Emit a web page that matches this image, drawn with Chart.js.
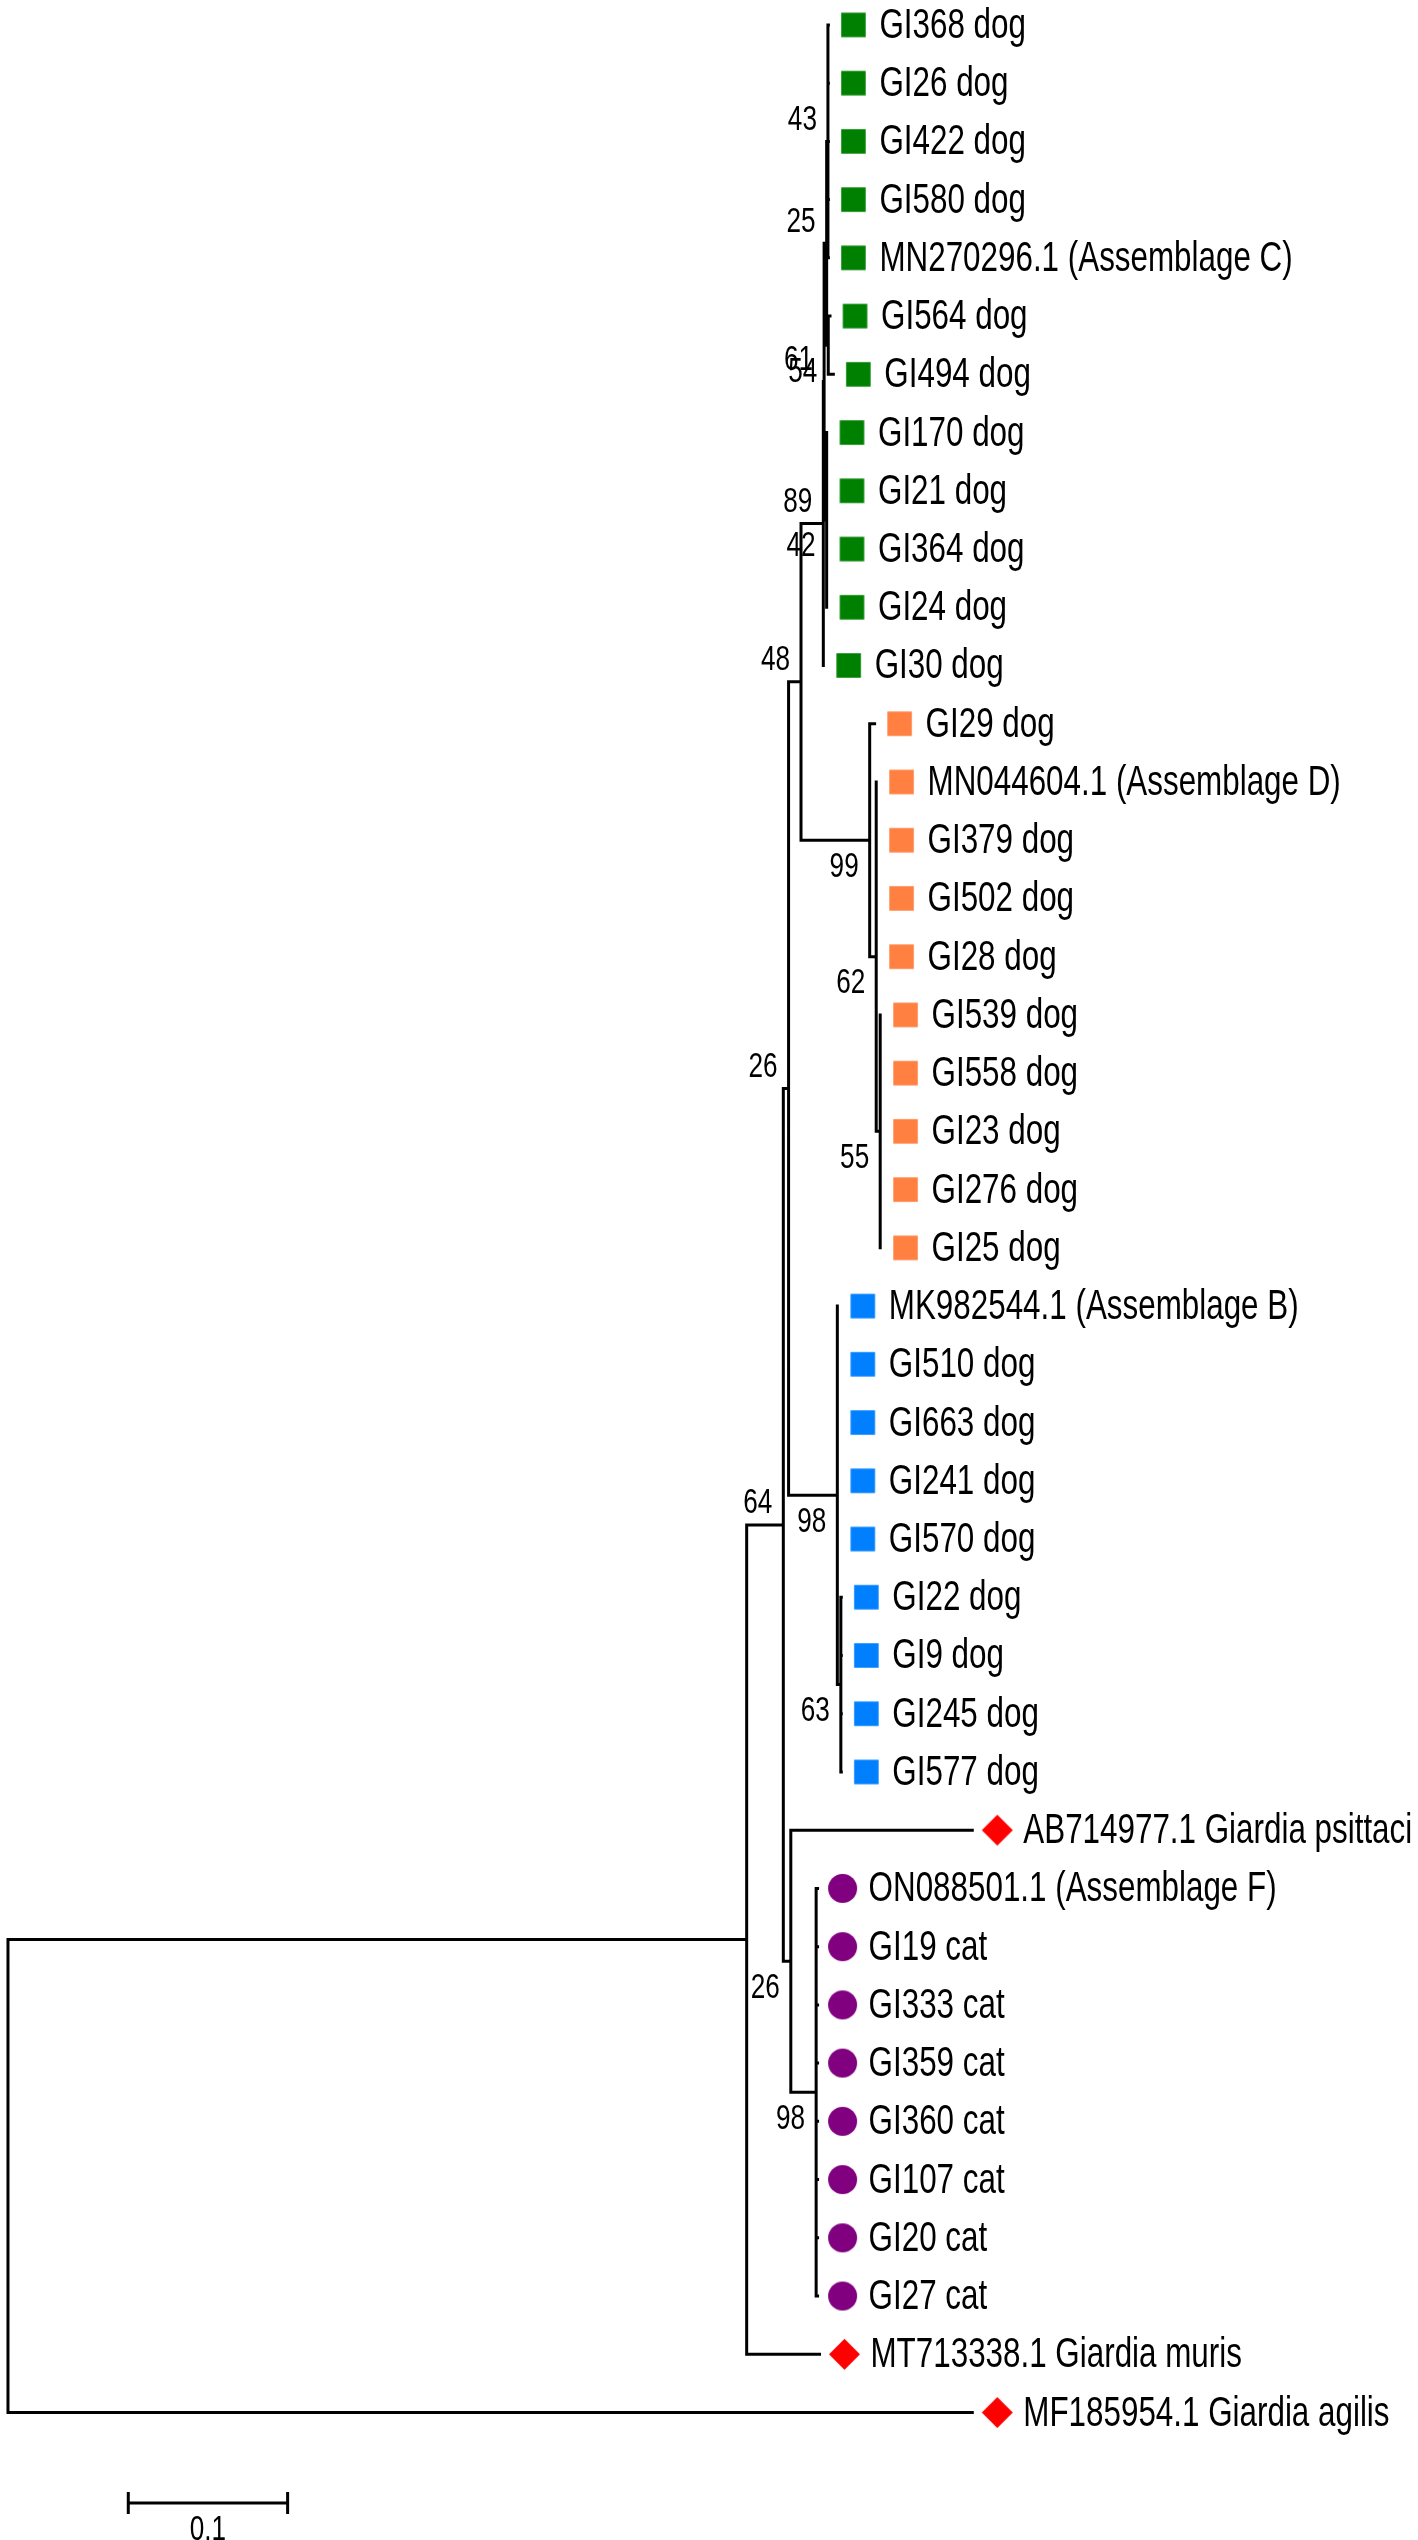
<!DOCTYPE html>
<html>
<head>
<meta charset="utf-8">
<title>Giardia tree</title>
<script src="https://cdn.jsdelivr.net/npm/chart.js@4.4.1/dist/chart.umd.min.js"></script>
<style>
  html, body { margin: 0; padding: 0; background: #fff; }
  #wrap { width: 1418px; height: 2540px; }
</style>
</head>
<body>
<div id="wrap"><canvas id="tree" width="1418" height="2540"></canvas></div>
<script>
// tips, top to bottom
const taxa = [
  'GI368 dog', 'GI26 dog', 'GI422 dog', 'GI580 dog', 'MN270296.1 (Assemblage C)',
  'GI564 dog', 'GI494 dog', 'GI170 dog', 'GI21 dog', 'GI364 dog', 'GI24 dog', 'GI30 dog',
  'GI29 dog', 'MN044604.1 (Assemblage D)', 'GI379 dog', 'GI502 dog', 'GI28 dog',
  'GI539 dog', 'GI558 dog', 'GI23 dog', 'GI276 dog', 'GI25 dog',
  'MK982544.1 (Assemblage B)', 'GI510 dog', 'GI663 dog', 'GI241 dog', 'GI570 dog',
  'GI22 dog', 'GI9 dog', 'GI245 dog', 'GI577 dog',
  'AB714977.1 Giardia psittaci',
  'ON088501.1 (Assemblage F)', 'GI19 cat', 'GI333 cat', 'GI359 cat', 'GI360 cat',
  'GI107 cat', 'GI20 cat', 'GI27 cat',
  'MT713338.1 Giardia muris', 'MF185954.1 Giardia agilis'
];
const taxonGroup = [
  'C','C','C','C','C','C','C','C','C','C','C','C',
  'D','D','D','D','D','D','D','D','D','D',
  'B','B','B','B','B','B','B','B','B',
  'other',
  'F','F','F','F','F','F','F','F',
  'other','other'
];
// parent node of each tip, and distance of each tip from the root
const tipParent = [
  8, 8, 8, 8, 8, 9, 9, 10, 10, 10, 10, 5,
  11, 12, 12, 12, 12, 13, 13, 13, 13, 13,
  14, 14, 14, 14, 14, 15, 15, 15, 15,
  16,
  17, 17, 17, 17, 17, 17, 17, 17,
  1, 0
];
const tipDepth = [
  0.5149, 0.5149, 0.5149, 0.5149, 0.5149, 0.5159, 0.5180,
  0.5140, 0.5140, 0.5140, 0.5140, 0.5119,
  0.5439, 0.5451, 0.5451, 0.5451, 0.5451,
  0.5476, 0.5476, 0.5476, 0.5476, 0.5476,
  0.5208, 0.5208, 0.5208, 0.5208, 0.5208,
  0.5230, 0.5230, 0.5230, 0.5230,
  0.6052,
  0.5081, 0.5081, 0.5081, 0.5081, 0.5081, 0.5081, 0.5081, 0.5081,
  0.5093, 0.6052
];
// internal nodes: parent, distance from root, bootstrap
const nodeParent  = [-1, 0, 1, 2, 3, 4, 5, 6, 7, 7, 6, 4, 11, 12, 3, 14, 2, 16];
const nodeDepth   = [0, 0.4636, 0.4866, 0.4899, 0.4977, 0.5117, 0.5122, 0.5138, 0.5146,
                     0.5148, 0.5138, 0.5408, 0.5449, 0.5474, 0.5205, 0.5227, 0.4913, 0.5072];
const nodeSupport = [null, null, 64, 26, 48, 89, 61, 25, 43, 54, 42, 99, 62, 55, 98, 63, 26, 98];

const scaleBarStart = 0.0755;
const scaleBarLength = 0.1;
const scaleBarLabel = '0.1';

const groupStyle = {
  C: { shape: 'square', color: '#008000' },
  D: { shape: 'square', color: '#FF8040' },
  B: { shape: 'square', color: '#0080FF' },
  F: { shape: 'circle', color: '#800080' },
  other: { shape: 'diamond', color: '#FF0000' }
};

// ---- layout: tip y = row, node y = middle of first and last child ----
const children = nodeParent.map(() => []);
nodeParent.forEach((p, i) => { if (p >= 0) children[p].push({ kind: 'node', id: i }); });
tipParent.forEach((p, i) => children[p].push({ kind: 'tip', id: i }));

const nodeY = new Array(nodeParent.length).fill(null);
function yOf(c) { return c.kind === 'tip' ? c.id : layoutNode(c.id); }
function layoutNode(n) {
  if (nodeY[n] !== null) return nodeY[n];
  const ys = children[n].map(yOf);
  nodeY[n] = (Math.min(...ys) + Math.max(...ys)) / 2;
  return nodeY[n];
}
layoutNode(0);

const GAP = { x: null, y: null };
const branchPts = [];
nodeParent.forEach((p, n) => {
  const ys = children[n].map(yOf);
  branchPts.push({ x: nodeDepth[n], y: Math.min(...ys) }, { x: nodeDepth[n], y: Math.max(...ys) }, GAP);
  children[n].forEach(c => {
    const d = c.kind === 'tip' ? tipDepth[c.id] : nodeDepth[c.id];
    branchPts.push({ x: nodeDepth[n], y: yOf(c) }, { x: d, y: yOf(c) }, GAP);
  });
});

// upper child of its parent gets its label above the node, lower child below
function isUpper(n) {
  const p = nodeParent[n];
  const ys = children[p].map(yOf);
  return nodeY[n] === Math.min(...ys);
}

// condensed Arial-like lettering
const FAMILY = '"Liberation Sans", Arial, sans-serif';
const SQUEEZE = 0.747;

// ---- marker images, drawn a little to the right of the tip ----
const MARK_GAP = 25;
function markerImage(shape, color) {
  const half = shape === 'circle' ? 14.5 : shape === 'diamond' ? 15.5 : 12.25;
  const w = Math.ceil(2 * (MARK_GAP + half + 2));
  const h = Math.ceil(2 * (half + 2));
  const cv = document.createElement('canvas');
  cv.width = w; cv.height = h;
  const g = cv.getContext('2d');
  const cx = w / 2 + MARK_GAP, cy = h / 2;
  g.fillStyle = color;
  g.beginPath();
  if (shape === 'circle') g.arc(cx, cy, half, 0, Math.PI * 2);
  else if (shape === 'diamond') {
    g.moveTo(cx, cy - half); g.lineTo(cx + half, cy);
    g.lineTo(cx, cy + half); g.lineTo(cx - half, cy); g.closePath();
  } else g.rect(cx - half, cy - half, half * 2, half * 2);
  g.fill();
  return cv;
}

const markerSets = Object.keys(groupStyle).map(k => ({
  type: 'scatter',
  label: k,
  data: taxa.map((t, i) => ({ x: tipDepth[i], y: i })).filter((p, i) => taxonGroup[i] === k),
  pointStyle: markerImage(groupStyle[k].shape, groupStyle[k].color),
  pointRadius: 5,
  clip: false
}));

function drawText(ctx, text, x, y, size, align) {
  ctx.save();
  ctx.font = size + 'px ' + FAMILY;
  ctx.textAlign = align;
  ctx.textBaseline = 'alphabetic';
  ctx.fillStyle = '#000';
  ctx.translate(x, y);
  ctx.scale(SQUEEZE, 1);
  ctx.fillText(text, 0, 0);
  ctx.restore();
}

const treeText = {
  id: 'treeText',
  afterDatasetsDraw(chart) {
    const ctx = chart.ctx;
    const xs = chart.scales.x, ys = chart.scales.y;
    // tip names
    taxa.forEach((t, i) => {
      drawText(ctx, t, xs.getPixelForValue(tipDepth[i]) + 51, ys.getPixelForValue(i) + 13, 42, 'left');
    });
    // bootstrap values
    nodeSupport.forEach((v, n) => {
      if (v === null) return;
      const px = xs.getPixelForValue(nodeDepth[n]) - 11;
      const py = ys.getPixelForValue(nodeY[n]) + (isUpper(n) ? -24 : 24) + 12.5;
      drawText(ctx, String(v), px, py, 35, 'right');
    });
    // scale bar
    const x0 = xs.getPixelForValue(scaleBarStart);
    const x1 = xs.getPixelForValue(scaleBarStart + scaleBarLength);
    const by = ys.getPixelForValue(nodeY[0]) + 327;
    ctx.save();
    ctx.strokeStyle = '#000';
    ctx.lineWidth = 3;
    ctx.beginPath();
    ctx.moveTo(x0, by); ctx.lineTo(x1, by);
    ctx.moveTo(x0, by - 11); ctx.lineTo(x0, by + 11);
    ctx.moveTo(x1, by - 11); ctx.lineTo(x1, by + 11);
    ctx.stroke();
    ctx.restore();
    drawText(ctx, scaleBarLabel, (x0 + x1) / 2, by + 37, 35, 'center');
  }
};

new Chart(document.getElementById('tree'), {
  type: 'scatter',
  data: {
    datasets: [{
      type: 'line',
      label: 'branches',
      data: branchPts,
      borderColor: '#000',
      borderWidth: 3,
      borderCapStyle: 'square',
      pointRadius: 0,
      spanGaps: false,
      tension: 0,
      clip: false
    }].concat(markerSets)
  },
  options: {
    responsive: false,
    animation: false,
    events: [],
    layout: { padding: 0 },
    plugins: { legend: { display: false }, tooltip: { enabled: false } },
    scales: {
      x: { type: 'linear', min: -0.001245, max: 0.88116, display: false },
      y: { type: 'linear', reverse: true, min: -0.3247, max: 43.086, display: false }
    }
  },
  plugins: [treeText]
});
</script>
</body>
</html>
